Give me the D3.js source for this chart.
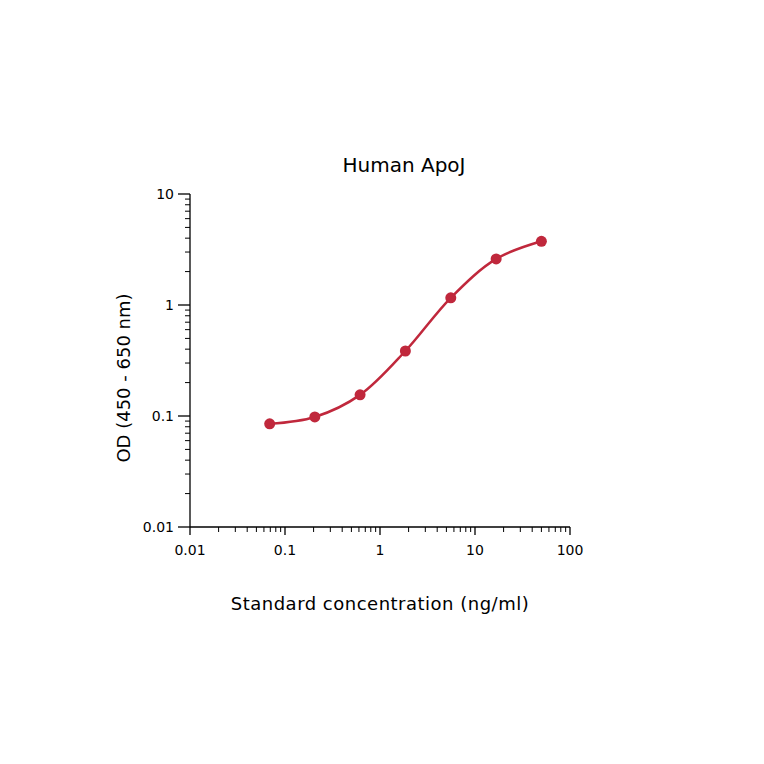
<!DOCTYPE html>
<html><head><meta charset="utf-8">
<script src="https://cdn.jsdelivr.net/npm/d3@7"></script>
<style>body{margin:0;background:#fff}text{font-family:"DejaVu Sans",Verdana,sans-serif}</style>
</head><body><svg id="c" width="764" height="764"></svg>
<script>
const title = "Human ApoJ";
const xLabel = "Standard concentration (ng/ml)";
const yLabel = "OD (450 - 650 nm)";
const conc = [0.069, 0.206, 0.617, 1.85, 5.56, 16.7, 50];
const od = [0.085, 0.098, 0.155, 0.385, 1.16, 2.6, 3.75];
const xTicks = [0.01, 0.1, 1, 10, 100];
const yTicks = [0.01, 0.1, 1, 10];
const color = "#c0283c";

const svg = d3.select("#c");
const x = d3.scaleLog().domain([0.01, 100]).range([190, 570]);
const y = d3.scaleLog().domain([0.01, 10]).range([527, 194]);

function minors(dom){const a=[];for(let e=Math.log10(dom[0]);e<Math.log10(dom[1]);e++)for(let k=2;k<=9;k++)a.push(k*Math.pow(10,e));return a;}

const gx = svg.append("g").attr("transform","translate(0,527)");
gx.append("line").attr("x1",190).attr("x2",570).attr("stroke","#000").attr("stroke-width",1.3);
gx.selectAll(".mj").data(xTicks).join("line").attr("x1",d=>x(d)).attr("x2",d=>x(d)).attr("y1",0).attr("y2",8).attr("stroke","#000").attr("stroke-width",1.3);
gx.selectAll(".mn").data(minors([0.01,100])).join("line").attr("x1",d=>x(d)).attr("x2",d=>x(d)).attr("y1",0).attr("y2",5).attr("stroke","#000");
gx.selectAll("text").data(xTicks).join("text").attr("x",d=>x(d)).attr("y",28).attr("text-anchor","middle").attr("font-size",14).text(d=>String(d));

const gy = svg.append("g").attr("transform","translate(190,0)");
gy.append("line").attr("y1",194).attr("y2",527).attr("stroke","#000").attr("stroke-width",1.3);
gy.selectAll(".mj").data(yTicks).join("line").attr("y1",d=>y(d)).attr("y2",d=>y(d)).attr("x1",0).attr("x2",-12).attr("stroke","#000").attr("stroke-width",1.3);
gy.selectAll(".mn").data(minors([0.01,10])).join("line").attr("y1",d=>y(d)).attr("y2",d=>y(d)).attr("x1",0).attr("x2",-5).attr("stroke","#000");
gy.selectAll("text").data(yTicks).join("text").attr("x",-16).attr("y",d=>y(d)+5).attr("text-anchor","end").attr("font-size",14).text(d=>String(d));

const pts = conc.map((c,i)=>[c,od[i]]);
svg.append("path").datum(pts).attr("fill","none").attr("stroke",color).attr("stroke-width",2.5)
  .attr("d",d3.line().x(d=>x(d[0])).y(d=>y(d[1])).curve(d3.curveCatmullRom.alpha(0.5)));
svg.selectAll("circle").data(pts).join("circle").attr("cx",d=>x(d[0])).attr("cy",d=>y(d[1])).attr("r",5.5).attr("fill",color);

svg.append("text").attr("x",404).attr("y",172).attr("text-anchor","middle").attr("font-size",20).text(title);
svg.append("text").attr("x",380).attr("y",610).attr("text-anchor","middle").attr("font-size",18).attr("letter-spacing",0.5).text(xLabel);
svg.append("text").attr("transform","translate(130,378) rotate(-90)").attr("text-anchor","middle").attr("font-size",18).text(yLabel);
</script></body></html>
